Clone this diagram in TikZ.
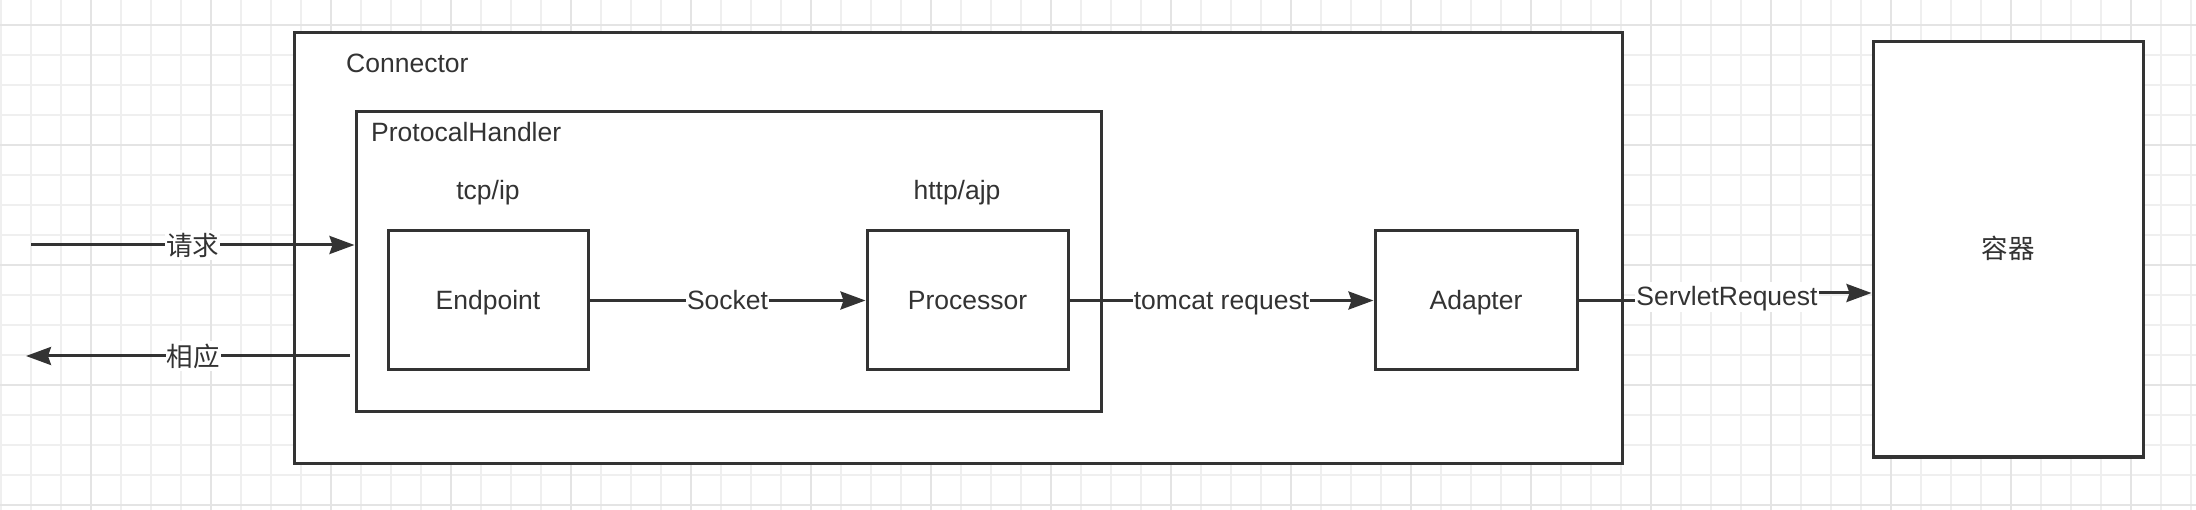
\documentclass[tikz,border=0pt]{standalone}
\usepackage{fontspec}
\setmainfont{Liberation Sans}
\newfontfamily\cjk{Noto Sans CJK SC}
\usetikzlibrary{arrows.meta}
\definecolor{ink}{HTML}{333333}
\definecolor{gridminor}{HTML}{EFEFEF}
\definecolor{gridmajor}{HTML}{E4E4E4}
\begin{document}
\begin{tikzpicture}[x=1pt,y=-1pt,
  box/.style={draw=ink, line width=3pt, fill=white, inner sep=0pt},
  txt/.style={text=ink, font=\fontsize{26.5}{30}\selectfont, inner sep=0pt},
  lbl/.style={txt, fill=white, inner xsep=1pt, inner ysep=3pt, text height=21pt, text depth=3pt},
  cjklbl/.style={txt, fill=white, inner xsep=1pt, inner ysep=3pt, font=\fontsize{26.5}{30}\selectfont\cjk},
  flow/.style={draw=ink, line width=3pt, -{Stealth[length=25pt,width=18pt,inset=3pt]}}]
\useasboundingbox (0,0) rectangle (2196,510);
\fill[white] (0,0) rectangle (2196,510);
% grid
\foreach \x in {1,31,...,2191} \draw[gridminor, line width=2pt] (\x,0) -- (\x,510);
\foreach \y in {25,55,...,505} \draw[gridminor, line width=2pt] (0,\y) -- (2196,\y);
\foreach \x in {91,211,...,2191} \draw[gridmajor, line width=2pt] (\x,0) -- (\x,510);
\foreach \y in {25,145,...,505} \draw[gridmajor, line width=2pt] (0,\y) -- (2196,\y);
% boxes
\node[box, minimum width=1328pt, minimum height=430pt] (conn) at (958,248) {};
\node[box, minimum width=745pt, minimum height=300pt] (ph) at (728.5,262) {};
\node[box, minimum width=200pt, minimum height=139pt] (ep) at (488,300.5) {};
\node[box, minimum width=201pt, minimum height=139pt] (proc) at (967.5,300.5) {};
\node[box, minimum width=202pt, minimum height=139pt] (adapt) at (1476,300.5) {};
\node[box, minimum width=270pt, minimum height=415pt] (rong) at (2008,249.5) {};
% texts
\node[txt, anchor=base west] (tconn) at (346,72.5) {Connector};
\node[txt, anchor=base west] (tph) at (371,142) {ProtocalHandler};
\node[txt, anchor=base] (ttcp) at (488,200) {tcp/ip};
\node[txt, anchor=base] (thttp) at (957,200) {http/ajp};
\node[txt, anchor=base] (tep) at (488,310) {Endpoint};
\node[txt, anchor=base] (tproc) at (967.5,310) {Processor};
\node[txt, anchor=base] (tadapt) at (1476,310) {Adapter};
\node[txt, font=\fontsize{26.5}{30}\selectfont\cjk] (trong) at (2008,248) {容器};
% connectors
\coordinate (reqstart) at (31,245);
\coordinate (resstart) at (350,356);
\coordinate (resend) at (26,356);
\coordinate (srv) at (1727,293);
\draw[flow] (reqstart) -- node[cjklbl] (lreq) {请求} (reqstart -| ph.west);
\draw[flow] (resstart) -- node[cjklbl, xshift=5pt] (lres) {相应} (resend);
\draw[flow] (ep) -- node[lbl] (lsock) {Socket} (proc);
\draw[flow] (proc) -- node[lbl] (ltom) {tomcat request} (adapt);
\draw[flow] (adapt.east) -- (adapt.east -| srv) -- node[lbl] (lsrv) {ServletRequest} (srv) -- (srv -| rong.west);
\end{tikzpicture}
\end{document}
